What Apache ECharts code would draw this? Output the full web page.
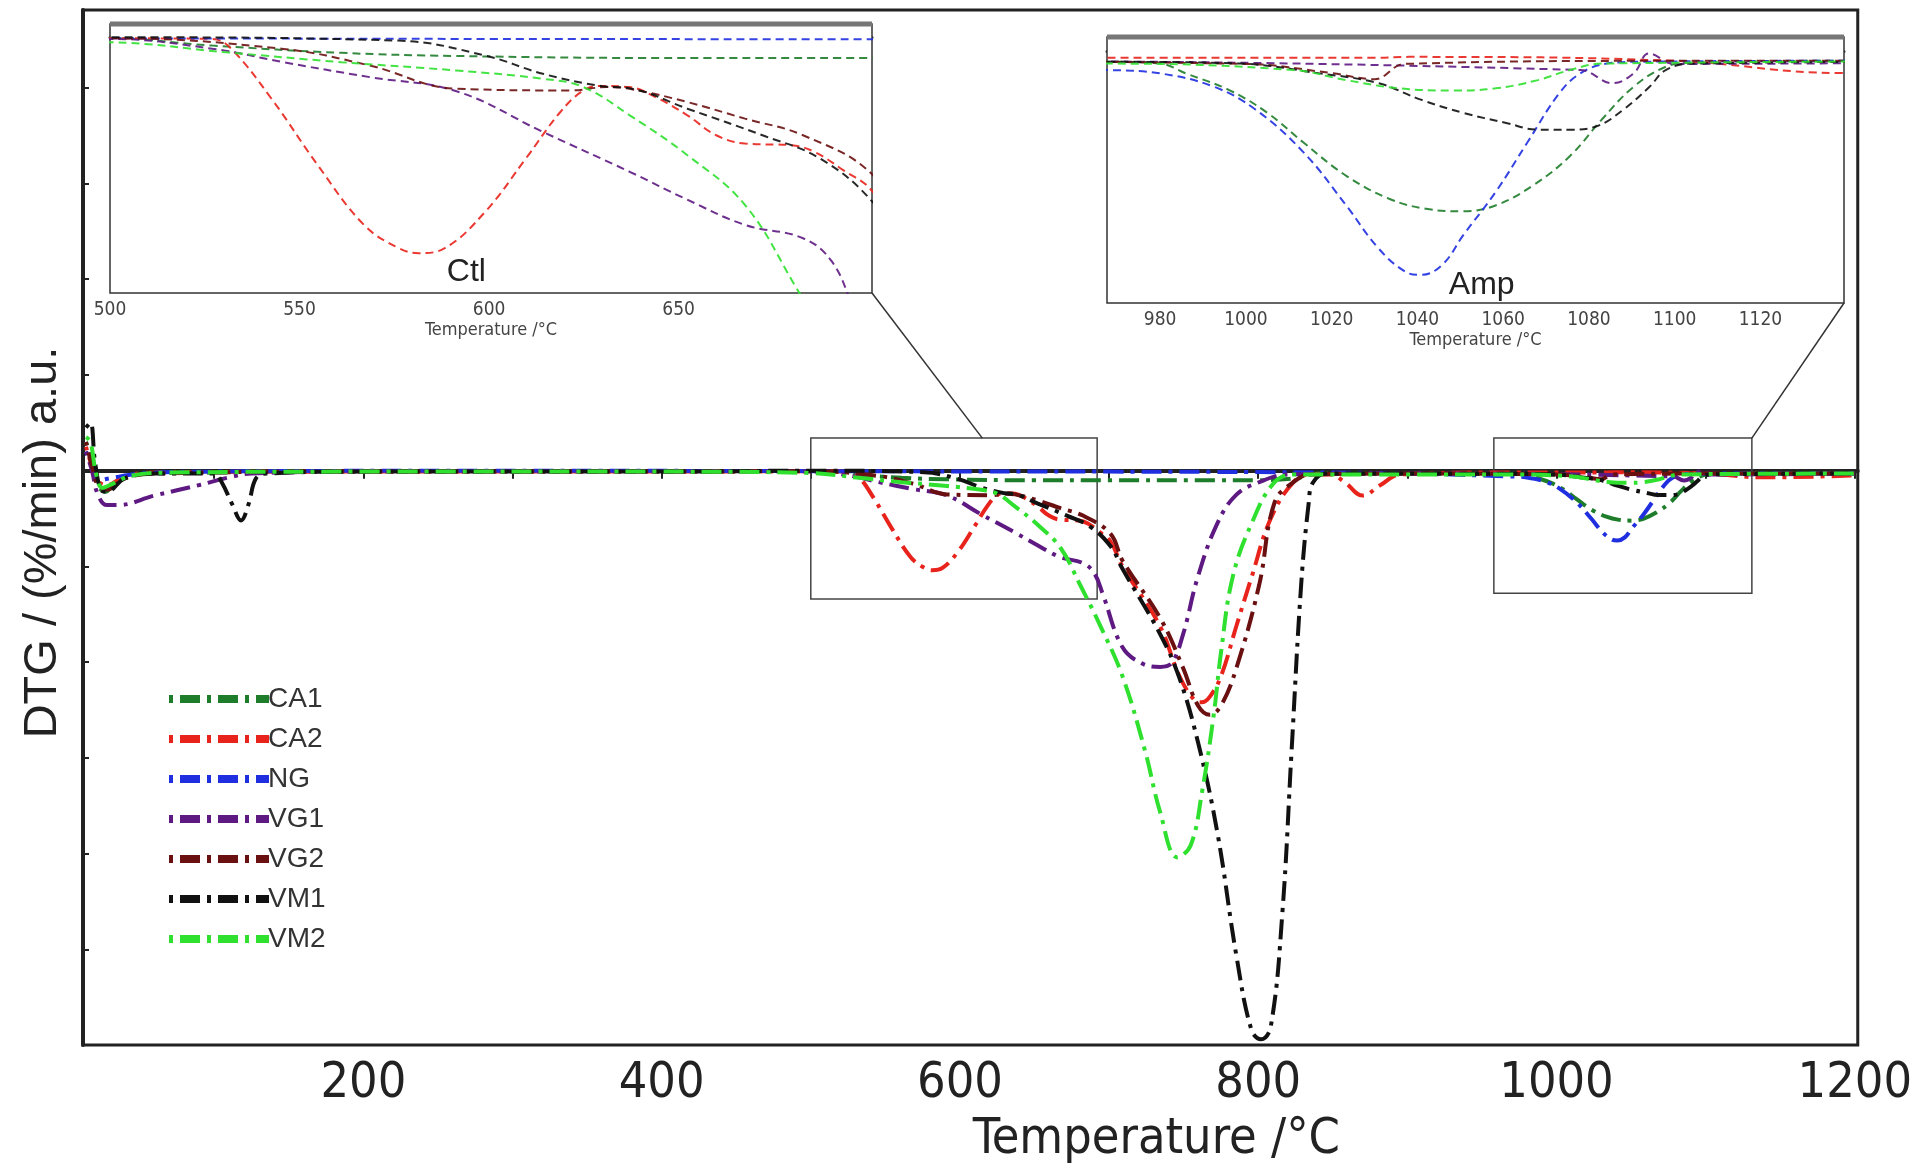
<!DOCTYPE html>
<html>
<head>
<meta charset="utf-8">
<title>DTG curves</title>
<script src="https://cdn.jsdelivr.net/npm/echarts@6/dist/echarts.min.js"></script>
<style>
  html, body { margin: 0; padding: 0; background: #fff; }
  #chart { width: 1915px; height: 1170px; }
</style>
</head>
<body>
<div id="chart"></div>
<script>
// sample names and colours (legend order)
const names = ['CA1', 'CA2', 'NG', 'VG1', 'VG2', 'VM1', 'VM2']
const colors = ['#1e7d2a', '#e8231c', '#1f2fe0', '#5e1a82', '#6a1010', '#111111', '#2fe02f']

// DTG curves: [temperature °C, DTG a.u.]
const ca1 = [[14, 0.3], [18, 0.1], [22, -0.15], [27, -0.22], [35, -0.1], [50, -0.04], [100, -0.02], [200, -0.01], [300, -0.01],
  [400, -0.01], [500, -0.005], [527, -0.04], [561, -0.075], [591, -0.09], [650, -0.1], [700, -0.1], [760, -0.1], [800, -0.1],
  [825, -0.08], [840, -0.03], [900, -0.03], [968, -0.033], [980, -0.039], [986, -0.071], [996, -0.125], [1005, -0.2],
  [1013.5, -0.298], [1023.4, -0.406], [1033.4, -0.481], [1042, -0.514], [1050.7, -0.522], [1058.2, -0.503], [1066.9, -0.438],
  [1075.6, -0.341], [1083, -0.222], [1090.5, -0.114], [1098, -0.049], [1104, -0.036], [1140, -0.03], [1200, -0.03]]
const ca2 = [[14, 0.25], [18, 0.05], [23, -0.12], [28, -0.15], [40, -0.06], [60, -0.02], [200, -0.01], [400, -0.01], [500, -0.005],
  [527, -0.008], [532, -0.056], [542.6, -0.296], [554.8, -0.616], [567, -0.904], [576.2, -1.016], [581.5, -1.04], [588.3, -1.016],
  [599, -0.84], [609.7, -0.584], [618.8, -0.36], [624.9, -0.256], [629.5, -0.235], [637, -0.24], [644.7, -0.296], [652.3, -0.376],
  [659.9, -0.472], [667.5, -0.512], [679.7, -0.52], [685.8, -0.552], [693.4, -0.64], [701, -0.74], [709, -1.0], [734, -1.62],
  [747, -2.14], [757.5, -2.4], [762, -2.42], [767.6, -2.36], [775.2, -2.14], [785.4, -1.62], [795.6, -1.11], [808.4, -0.5],
  [823.6, -0.12], [835, -0.04], [848, -0.04], [858, -0.12], [870, -0.26], [882, -0.15], [895, -0.04], [960, -0.02], [1030, -0.02],
  [1038, -0.017], [1100, -0.03], [1139, -0.07], [1200, -0.05]]
const ng = [[14, 0.2], [18, 0.05], [23, -0.1], [30, -0.08], [50, -0.03], [100, -0.01], [300, 0], [500, -0.005], [600, -0.008],
  [700, -0.01], [800, -0.015], [900, -0.03], [968, -0.06], [980, -0.071], [992.4, -0.114], [1002.3, -0.19], [1013.5, -0.33],
  [1023.4, -0.503], [1030.9, -0.643], [1037.1, -0.719], [1040.8, -0.73], [1045.8, -0.697], [1050.7, -0.6], [1058.2, -0.46],
  [1065.6, -0.298], [1073.1, -0.136], [1078, -0.071], [1084.2, -0.039], [1091.7, -0.033], [1140, -0.03], [1200, -0.03]]
const vg1 = [[14, 0.2], [18, 0], [22, -0.25], [28, -0.36], [35, -0.36], [60, -0.26], [90, -0.15], [110, -0.07], [125, -0.03],
  [200, -0.01], [400, -0.01], [500, -0.008], [527.4, -0.056], [545.7, -0.12], [568.5, -0.192], [591.4, -0.26], [614.2, -0.456],
  [637.1, -0.648], [652, -0.78], [667.5, -0.904], [682.8, -0.968], [690.4, -1.08], [696, -1.3], [708.8, -1.84], [721.5, -2.01],
  [734.3, -2.05], [741.9, -2.01], [749.6, -1.71], [759.5, -1.11], [772.6, -0.55], [785.4, -0.25], [800.7, -0.12], [820, -0.04],
  [900, -0.03], [1078, -0.06], [1085.5, -0.103], [1090.5, -0.07], [1094, -0.006], [1100, -0.04], [1200, -0.03]]
const vg2 = [[14, 0.3], [18, 0.05], [22, -0.15], [28, -0.2], [40, -0.08], [60, -0.03], [200, -0.01], [400, -0.01], [500, -0.005],
  [545.7, -0.056], [568.5, -0.136], [591.4, -0.248], [621.8, -0.256], [631, -0.24], [637, -0.248], [652.3, -0.312],
  [667.5, -0.392], [682.8, -0.472], [701, -0.66], [709, -0.94], [734.3, -1.54], [749.6, -2.06], [759.5, -2.45], [767.6, -2.55],
  [775.2, -2.45], [785.4, -2.06], [800.7, -1.19], [811, -0.33], [823.6, -0.12], [835, -0.04], [900, -0.03], [1000, -0.04],
  [1020, -0.07], [1030, -0.09], [1037, -0.04], [1100, -0.03], [1200, -0.03]]
const vm1 = [[14, 0.45], [17, 0.5], [20, 0.1], [24, -0.2], [28, -0.22], [40, -0.08], [60, -0.03], [100, -0.03], [105, -0.12],
  [112, -0.35], [118, -0.52], [123, -0.35], [128, -0.08], [135, -0.03], [200, -0.01], [400, -0.01], [500, 0], [576, -0.016],
  [599, -0.088], [614.2, -0.176], [629.5, -0.235], [637, -0.245], [652.3, -0.344], [672.1, -0.472], [687.3, -0.584],
  [701, -0.79], [708.8, -1.02], [734.3, -1.71], [747, -2.16], [759.5, -2.83], [772.6, -3.78], [785.4, -5.07], [795.6, -5.85],
  [802, -5.94], [808.4, -5.81], [816.1, -4.64], [822.4, -2.92], [828.8, -1.19], [833.9, -0.33], [836.5, -0.13], [845, -0.03],
  [968, -0.033], [998.6, -0.039], [1017.2, -0.071], [1030.9, -0.103], [1040.8, -0.157], [1050.7, -0.2], [1060.7, -0.233],
  [1068.1, -0.255], [1075.6, -0.255], [1081.8, -0.244], [1088, -0.19], [1094.2, -0.114], [1097.9, -0.06], [1104.1, -0.039],
  [1200, -0.03]]
const vm2 = [[14, 0.35], [17, 0.3], [21, -0.05], [25, -0.18], [30, -0.15], [45, -0.05], [70, -0.02], [200, -0.01], [400, -0.01],
  [500, -0.024], [530.5, -0.072], [561, -0.12], [591.4, -0.16], [614.2, -0.2], [624.9, -0.24], [637.1, -0.376], [652.3, -0.568],
  [667.5, -0.808], [680.8, -1.2], [693.5, -1.6], [708.8, -2.14], [724, -2.92], [734.3, -3.57], [745.8, -4.04], [754.8, -3.91],
  [762.4, -3.35], [770, -2.57], [775.2, -1.88], [782.9, -1.11], [795.6, -0.55], [811, -0.12], [825, -0.04], [968, -0.039],
  [1011, -0.06], [1023.4, -0.093], [1035.8, -0.12], [1048.3, -0.127], [1058.2, -0.12], [1068.1, -0.093], [1075.6, -0.06],
  [1083, -0.039], [1200, -0.03]]
const curves = [ca1, ca2, ng, vg1, vg2, vm1, vm2]

// axis ticks and labels
const xTicks = [100, 200, 300, 400, 500, 600, 700, 800, 900, 1000, 1100, 1200]
const xLabels = [200, 400, 600, 800, 1000, 1200]
const ctlTicks = [510, 520, 530, 540, 550, 560, 570, 580, 590, 600, 610, 620, 630, 640, 650, 660, 670, 680, 690, 700]
const ctlLabels = [500, 550, 600, 650]
const ampTicks = [970, 980, 990, 1000, 1010, 1020, 1030, 1040, 1050, 1060, 1070, 1080, 1090, 1100, 1110, 1120, 1130]
const ampLabels = [980, 1000, 1020, 1040, 1060, 1080, 1100, 1120]

// zoomed areas: [xFrom, xTo, yTop, yBottom]
const ctlBox = [500, 692, 0.34, -1.34]
const ampBox = [958, 1131, 0.34, -1.28]
const ctlX = [500, 701]
const ctlY = [-1.232, 0.064]
const ampX = [967.6, 1139.5]
const ampY = [-0.822, 0.048]

const narrow = "'Liberation Sans Narrow', 'DejaVu Sans Condensed', 'Liberation Sans', sans-serif"
const sans = "'Liberation Sans', Arial, sans-serif"
const plain = v => String(v)

const chart = echarts.init(document.getElementById('chart'))

const series = []
names.forEach((n, i) => {
  series.push({
    name: n,
    type: 'line',
    xAxisIndex: 0,
    yAxisIndex: 0,
    data: curves[i],
    smooth: 0.4,
    symbol: 'none',
    silent: true,
    z: 3,
    itemStyle: { color: colors[i] },
    lineStyle: { color: colors[i], width: 4, type: [4, 7, 20, 7] }
  })
})
// inset copies, same data, dashed
;[1, 2].forEach(g => {
  names.forEach((n, i) => {
    series.push({
      name: n + (g === 1 ? ' (Ctl)' : ' (Amp)'),
      type: 'line',
      xAxisIndex: g,
      yAxisIndex: g,
      data: curves[i],
      smooth: 0.4,
      symbol: 'none',
      silent: true,
      z: 5,
      itemStyle: { color: colors[i] },
      lineStyle: { color: colors[i], width: 2, type: [8, 5], opacity: 0.9 }
    })
  })
})
// zoom boxes on the main plot
series[0].markArea = {
  silent: true,
  itemStyle: { color: 'rgba(0,0,0,0)', borderColor: '#444', borderWidth: 1.5 },
  data: [
    [{ xAxis: ctlBox[0], yAxis: ctlBox[2] }, { xAxis: ctlBox[1], yAxis: ctlBox[3] }],
    [{ xAxis: ampBox[0], yAxis: ampBox[2] }, { xAxis: ampBox[1], yAxis: ampBox[3] }]
  ]
}

const insetX = (g, range, ticks, labels) => ({
  type: 'value',
  gridIndex: g,
  min: range[0],
  max: range[1],
  name: 'Temperature /°C',
  nameLocation: 'middle',
  nameGap: 28,
  nameTextStyle: { fontFamily: narrow, fontSize: 18, color: '#444' },
  axisLine: { show: true, lineStyle: { color: '#333', width: 3 } },
  axisTick: { show: true, inside: true, length: 4, customValues: ticks, lineStyle: { color: '#666' } },
  axisLabel: { fontFamily: narrow, fontSize: 19, color: '#444', margin: 8, customValues: labels, formatter: plain },
  splitLine: { show: false }
})
const insetY = (g, range) => ({
  type: 'value',
  gridIndex: g,
  min: range[0],
  max: range[1],
  axisLine: { show: false },
  axisTick: { show: false },
  axisLabel: { show: false },
  splitLine: { show: false }
})

chart.setOption({
  animation: false,
  backgroundColor: '#fff',
  grid: [
    { left: 83, top: 10, width: 1775, height: 1038, show: true, borderColor: '#222', borderWidth: 3 },
    { left: 110, top: 24, width: 762, height: 269, show: true, backgroundColor: '#fff', borderColor: '#333', borderWidth: 1.5, z: 4 },
    { left: 1107, top: 37, width: 737, height: 266, show: true, backgroundColor: '#fff', borderColor: '#333', borderWidth: 1.5, z: 4 }
  ],
  legend: {
    orient: 'vertical',
    left: 160,
    top: 680,
    itemWidth: 100,
    itemHeight: 14,
    itemGap: 12,
    data: names,
    itemStyle: { opacity: 0 },
    lineStyle: { width: 8 },
    textStyle: { fontFamily: sans, fontSize: 28, color: '#333', padding: [0, 0, 0, -6] }
  },
  xAxis: [
    {
      type: 'value',
      gridIndex: 0,
      min: 12,
      max: 1202,
      name: 'Temperature /°C',
      nameLocation: 'middle',
      nameGap: 70,
      nameTextStyle: { fontFamily: narrow, fontSize: 50, color: '#222', padding: [0, 0, 0, 372] },
      axisLine: { lineStyle: { color: '#222', width: 4 } },
      axisTick: { customValues: xTicks, length: 8, lineStyle: { color: '#222', width: 2 } },
      axisLabel: { customValues: xLabels, fontFamily: narrow, fontSize: 50, color: '#222', margin: 14, formatter: plain },
      splitLine: { show: false }
    },
    insetX(1, ctlX, ctlTicks, ctlLabels),
    insetX(2, ampX, ampTicks, ampLabels)
  ],
  yAxis: [
    {
      type: 'value',
      gridIndex: 0,
      min: -6,
      max: 4.8125,
      interval: 1,
      name: 'DTG / (%/min) a.u.',
      nameLocation: 'middle',
      nameRotate: 90,
      nameGap: 16,
      nameTextStyle: { fontFamily: sans, fontSize: 47, color: '#222', padding: [0, 30, 0, 0] },
      axisLine: { lineStyle: { color: '#222', width: 4 } },
      axisTick: { inside: true, length: 6, lineStyle: { color: '#222', width: 2 } },
      axisLabel: { show: false },
      splitLine: { show: false }
    },
    insetY(1, ctlY),
    insetY(2, ampY)
  ],
  series: series
})

// connector lines, inset top bars and inset captions
const px = (si, p) => chart.convertToPixel({ seriesIndex: si }, p)
const c1a = px(0, [615, ctlBox[2]])
const c1b = px(7, [ctlX[1], ctlY[0]])
const c2a = px(0, [ampBox[1], ampBox[2]])
const c2b = px(14, [ampX[1], ampY[0]])
const t1a = px(7, [ctlX[0], ctlY[1]])
const t1b = px(7, [ctlX[1], ctlY[1]])
const t2a = px(14, [ampX[0], ampY[1]])
const t2b = px(14, [ampX[1], ampY[1]])
const cap1 = px(7, [594, -1.13])
const cap2 = px(14, [1055, -0.765])

chart.setOption({
  graphic: [
    { type: 'line', shape: { x1: c1a[0], y1: c1a[1], x2: c1b[0], y2: c1b[1] }, style: { stroke: '#333', lineWidth: 1.5 }, z: 10 },
    { type: 'line', shape: { x1: c2a[0], y1: c2a[1], x2: c2b[0], y2: c2b[1] }, style: { stroke: '#333', lineWidth: 1.5 }, z: 10 },
    { type: 'line', shape: { x1: t1a[0], y1: t1a[1], x2: t1b[0], y2: t1b[1] }, style: { stroke: '#777', lineWidth: 5 }, z: 10 },
    { type: 'line', shape: { x1: t2a[0], y1: t2a[1], x2: t2b[0], y2: t2b[1] }, style: { stroke: '#777', lineWidth: 5 }, z: 10 },
    { type: 'text', x: cap1[0], y: cap1[1], style: { text: 'Ctl', font: '32px ' + sans, fill: '#222', align: 'center', verticalAlign: 'middle' }, z: 10 },
    { type: 'text', x: cap2[0], y: cap2[1], style: { text: 'Amp', font: '32px ' + sans, fill: '#222', align: 'center', verticalAlign: 'middle' }, z: 10 }
  ]
})
</script>
</body>
</html>
